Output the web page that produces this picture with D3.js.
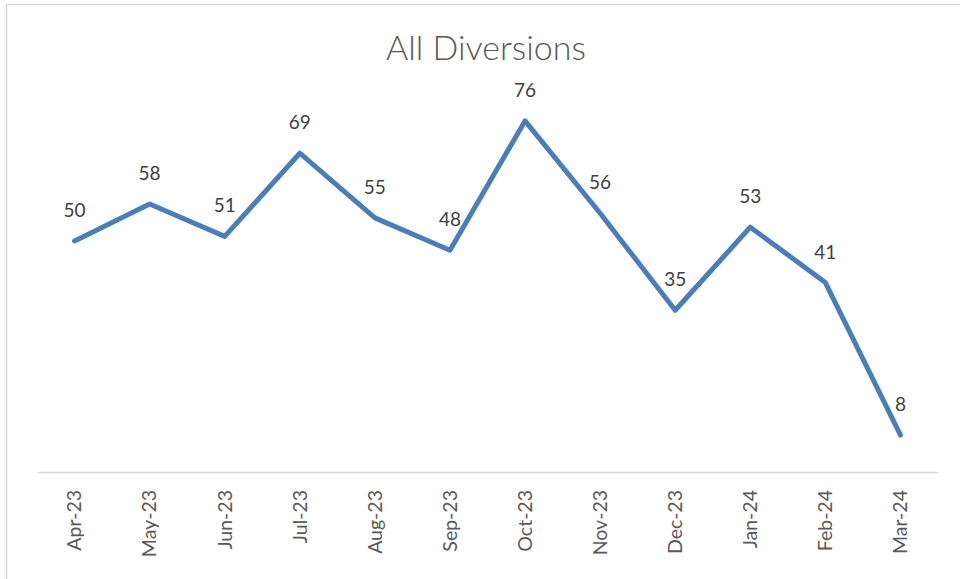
<!DOCTYPE html>
<html>
<head>
<meta charset="utf-8">
<script src="https://cdn.jsdelivr.net/npm/d3@7"></script>
<style>
  body { margin: 0; background: #fff; }
  svg { display: block; font-family: Lato, "Open Sans", sans-serif; }
</style>
</head>
<body>
<svg id="chart"></svg>
<script>
let months = ['Apr-23','May-23','Jun-23','Jul-23','Aug-23','Sep-23','Oct-23','Nov-23','Dec-23','Jan-24','Feb-24','Mar-24']
let diversions = [50, 58, 51, 69, 55, 48, 76, 56, 35, 53, 41, 8]

let width = 960
let height = 579

let svg = d3.select('#chart').attr('width', width).attr('height', height)

// chart border (runs off the bottom/right edge like the original)
svg.append('rect')
   .attr('x', 6.5).attr('y', 4.5)
   .attr('width', 970).attr('height', 600)
   .attr('fill', 'none')
   .attr('stroke', '#d9d9d9')
   .attr('stroke-width', 1.5)

svg.append('text')
   .attr('x', 486).attr('y', 60)
   .attr('text-anchor', 'middle')
   .attr('fill', '#595959')
   .style('font-size', '34px')
   .style('font-weight', 300)
   .text('All Diversions')

let xScale = d3.scaleBand()
               .domain(months)
               .range([37, 938])

let yScale = d3.scaleLinear()
               .domain([0, 80])
               .range([472, 102.4])

let xAxis = d3.axisBottom(xScale).tickSize(0).tickPadding(0)

let gx = svg.append('g')
   .attr('transform', 'translate(0,472)')
   .call(xAxis)
   .attr('font-family', null)
   .attr('font-size', null)

gx.select('.domain').attr('stroke', '#d9d9d9').attr('stroke-width', 1.5)
gx.selectAll('text')
  .attr('transform', 'rotate(-90)')
  .attr('x', -18).attr('y', 0).attr('dy', '0.35em')
  .attr('text-anchor', 'end')
  .attr('fill', '#595959')
  .style('font-size', '19.5px')

let cx = (d, i) => xScale(months[i]) + xScale.bandwidth() / 2

let line = d3.line()
             .x(cx)
             .y(d => yScale(d))

svg.append('path')
   .datum(diversions)
   .attr('d', line)
   .attr('fill', 'none')
   .attr('stroke', '#4a7ebb')
   .attr('stroke-width', 5)
   .attr('stroke-linejoin', 'round')
   .attr('stroke-linecap', 'round')

svg.selectAll('.label')
   .data(diversions)
   .enter()
   .append('text')
   .attr('class', 'label')
   .attr('x', cx)
   .attr('y', d => yScale(d) - 24)
   .attr('text-anchor', 'middle')
   .attr('fill', '#404040')
   .style('font-size', '19px')
   .text(d => d)
</script>
</body>
</html>
